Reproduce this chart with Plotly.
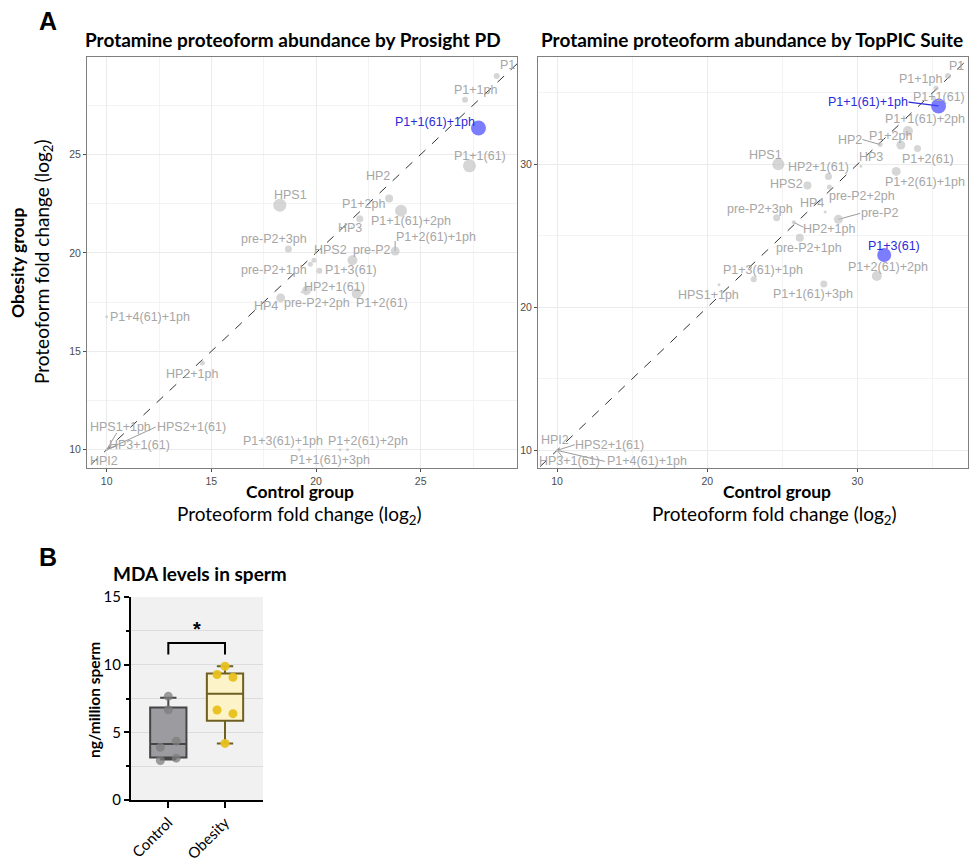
import plotly.graph_objects as go

W, H = 971, 861

# ---------------- Panel A, left: Prosight PD ----------------
names_pd = ["P1", "P1+1ph", "P1+1(61)+1ph", "P1+1(61)", "HP2", "P1+1(61)+2ph", "HPS1", "P1+2ph",
            "HP3", "pre-P2+3ph", "P1+2(61)+1ph", "HPS2", "pre-P2", "pre-P2+1ph", "P1+3(61)",
            "HP2+1(61)", "HP4", "pre-P2+2ph", "P1+2(61)", "P1+4(61)+1ph", "HP2+1ph", "HPS1+1ph",
            "HPS2+1(61)", "HP3+1(61)", "HPI2", "P1+3(61)+1ph", "P1+2(61)+2ph", "P1+1(61)+3ph"]
control_pd = [28.63, 27.12, 27.76, 27.33, 23.49, 24.06, 18.27, 22.09, 21.7, 18.68, 23.78, 19.9,
              21.74, 19.73, 20.16, 19.54, 18.31, 19.3, 21.94, 10.0, 14.57, 10.0, 10.0, 10.0, 10.0,
              19.2, 21.5, 21.15]
obesity_pd = [28.98, 27.78, 26.34, 24.42, 22.76, 22.14, 22.42, 21.73, 21.3, 20.19, 20.09, 19.63,
              19.62, 19.42, 19.09, 18.08, 17.71, 18.0, 17.93, 16.76, 14.4, 10.0, 10.0, 10.0, 10.0,
              10.0, 10.0, 10.0]
abund_pd = [6, 6, 15, 13, 8, 12, 13, 7, 2, 7, 9, 5, 10, 5, 6, 9, 9, 2, 10, 3, 5, 2, 2, 2, 2, 3, 3, 3]
highlight_pd = ["P1+1(61)+1ph"]

# label placement (repelled positions)
labx_pd = [29.15, 27.6, 25.69, 27.84, 22.98, 24.52, 18.76, 22.26, 21.62, 18.01, 25.72, 20.67,
           22.66, 17.99, 21.66, 20.86, 17.61, 20.03, 23.14, 12.07, 14.09, 10.64, 14.03, 11.59,
           9.89, 18.42, 22.47, 20.67]
laby_pd = [29.52, 28.29, 26.63, 24.9, 23.9, 21.63, 22.92, 22.48, 21.24, 20.7, 20.8, 20.13,
           20.13, 19.13, 19.13, 18.25, 17.3, 17.44, 17.44, 16.76, 13.85, 11.15, 11.15, 10.25,
           9.41, 10.42, 10.42, 9.46]
seg_pd = {"HPS1+1ph": (10.48, 10.85), "HPS2+1(61)": (12.34, 11.15), "HP3+1(61)": (10.5, 10.2),
          "P1+2(61)+1ph": (23.78, 20.6)}

# ---------------- Panel A, right: TopPIC Suite ----------------
names_tp = ["P1", "P1+1ph", "P1+1(61)+1ph", "P1+1(61)", "P1+1(61)+2ph", "P1+2ph", "HP2", "P1+2(61)",
            "HP3", "HPS1", "P1+2(61)+1ph", "HP2+1(61)", "HPS2", "pre-P2+2ph", "HP4", "pre-P2",
            "pre-P2+3ph", "HP2+1ph", "pre-P2+1ph", "P1+3(61)", "P1+2(61)+2ph", "P1+3(61)+1ph",
            "P1+1(61)+3ph", "HPS1+1ph", "HPI2", "HPS2+1(61)", "HP3+1(61)", "P1+4(61)+1ph"]
control_tp = [36.03, 35.23, 35.4, 35.1, 33.36, 32.89, 31.51, 34.0, 30.23, 24.73, 32.58, 28.07,
              26.67, 28.13, 27.85, 28.73, 24.62, 25.76, 26.16, 31.78, 31.29, 23.09, 27.76, 20.78,
              10.0, 10.0, 10.0, 10.0]
obesity_tp = [36.17, 35.33, 34.08, 34.6, 32.33, 31.35, 31.38, 31.1, 29.87, 30.0, 29.5, 29.15,
              28.52, 28.42, 26.66, 26.15, 26.26, 25.94, 24.86, 23.66, 22.19, 21.96, 21.63, 21.58,
              10.0, 10.0, 10.0, 10.0]
abund_tp = [6, 5, 15, 4, 10, 9, 5, 7, 3, 12, 9, 7, 8, 5, 3, 9, 7, 4, 8, 14, 10, 6, 7, 3, 2, 2, 2, 2]
highlight_tp = ["P1+1(61)+1ph", "P1+3(61)"]

labx_tp = [36.62, 34.18, 30.69, 35.4, 34.47, 32.18, 29.51, 34.67, 30.89, 23.89, 34.47, 27.4,
           25.29, 30.33, 26.96, 31.51, 23.51, 28.11, 26.78, 32.45, 32.0, 23.73, 27.07, 20.11,
           9.85, 13.51, 10.85, 15.96]
laby_tp = [36.87, 35.99, 34.35, 34.7, 33.15, 31.98, 31.68, 30.4, 30.52, 30.63, 28.77, 29.78,
           28.61, 27.77, 27.31, 26.57, 26.89, 25.45, 24.12, 24.28, 22.82, 22.61, 20.94, 20.89,
           10.7, 10.4, 9.23, 9.23]
seg_tp = {"P1+1(61)+1ph": (33.4, 34.35), "HP2": (30.33, 31.73), "pre-P2": (30.18, 26.57),
          "HP2+1ph": (26.4, 25.6), "HPS2+1(61)": (11.18, 10.4), "P1+4(61)+1ph": (13.18, 9.23),
          "HP3+1(61)": (10.4, 9.5)}

# ---------------- Panel B: MDA levels ----------------
groups = ["Control", "Obesity"]
control_mda = [2.92, 3.09, 3.9, 4.35, 6.67, 7.66]
obesity_mda = [4.18, 6.38, 6.65, 9.07, 9.27, 9.88]
box_q1 = [3.14, 5.86]
box_median = [4.13, 7.86]
box_q3 = [6.84, 9.34]
box_low = [3.0, 4.18]
box_high = [7.55, 9.88]

GREY_PT = "rgba(190,190,190,0.9)"
BLUE_PT = "#4444ff"
GREY_TXT = "#a6a6a6"
BLUE_TXT = "#2b2bd8"
LAB_FONT = "Liberation Sans"

fig = go.Figure()


def px2fx(p):
    return p / W


def py2fy(p):
    return 1 - p / H


annotations = []
shapes = []


def add_scatter_panel(names, xs, ys, sizes, highlights, labx, laby, segs, xa, ya, rng):
    # identity line
    fig.add_trace(go.Scatter(x=[rng[0], rng[1]], y=[rng[0], rng[1]], mode="lines",
                             line=dict(color="#333333", width=1, dash="dash"),
                             xaxis=xa, yaxis=ya, hoverinfo="skip", showlegend=False))
    sx, sy, bx, by = [], [], [], []
    for n, x, y in zip(names, xs, ys):
        if n in segs:
            ex, ey = segs[n]
            if n in highlights:
                bx += [x, ex, None]; by += [y, ey, None]
            else:
                sx += [x, ex, None]; sy += [y, ey, None]
    fig.add_trace(go.Scatter(x=sx, y=sy, mode="lines", line=dict(color="#9a9a9a", width=1),
                             xaxis=xa, yaxis=ya, hoverinfo="skip", showlegend=False))
    fig.add_trace(go.Scatter(x=bx, y=by, mode="lines", line=dict(color="#2b2bd8", width=1.3),
                             xaxis=xa, yaxis=ya, hoverinfo="skip", showlegend=False))
    cols = [BLUE_PT if n in highlights else GREY_PT for n in names]
    fig.add_trace(go.Scatter(x=xs, y=ys, mode="markers", text=names,
                             marker=dict(size=sizes, color=cols, line=dict(width=0)),
                             xaxis=xa, yaxis=ya, showlegend=False))
    for n, lx, ly in zip(names, labx, laby):
        annotations.append(dict(x=lx, y=ly, xref=xa, yref=ya, text=n, showarrow=False,
                                font=dict(family=LAB_FONT, size=12.5,
                                          color=BLUE_TXT if n in highlights else GREY_TXT)))


add_scatter_panel(names_pd, control_pd, obesity_pd, abund_pd, highlight_pd, labx_pd, laby_pd,
                  seg_pd, "x", "y", (8, 31))
add_scatter_panel(names_tp, control_tp, obesity_tp, abund_tp, highlight_tp, labx_tp, laby_tp,
                  seg_tp, "x2", "y2", (8, 39))

# ---------------- box panel ----------------
box_fill = ["#9c9ba0", "#fcf3c8"]
box_line = ["#454545", "#6e5f22"]
pt_col = ["rgba(125,125,125,0.75)", "rgba(232,192,30,0.95)"]
pt_dx = [[-0.14, 0.14, -0.14, 0.14, 0.0, 0.0], [0.0, 0.14, -0.14, 0.14, -0.14, 0.0]]
for i, g in enumerate(groups):
    fig.add_trace(go.Box(x=[i], q1=[box_q1[i]], median=[box_median[i]], q3=[box_q3[i]],
                         lowerfence=[box_low[i]], upperfence=[box_high[i]], width=0.64,
                         whiskerwidth=0.45, fillcolor=box_fill[i],
                         line=dict(color=box_line[i], width=2), boxpoints=False,
                         xaxis="x3", yaxis="y3", showlegend=False, name=g))
data_mda = [control_mda, obesity_mda]
for i, g in enumerate(groups):
    fig.add_trace(go.Scatter(x=[i + d for d in pt_dx[i]], y=data_mda[i], mode="markers",
                             marker=dict(size=9, color=pt_col[i]), xaxis="x3", yaxis="y3",
                             showlegend=False, name=g))

grid = "#ebebeb"
tickfont_small = dict(family=LAB_FONT, size=10.5, color="#4d4d4d")
common = dict(showgrid=True, gridcolor=grid, gridwidth=1, showline=True, linecolor="#7f7f7f",
              mirror=True, linewidth=1, ticks="outside", ticklen=3, tickcolor="#4d4d4d",
              tickfont=tickfont_small, zeroline=False, automargin=False)
fig.update_layout(
    width=W, height=H, margin=dict(l=0, r=0, t=0, b=0, autoexpand=False),
    paper_bgcolor="white", plot_bgcolor="white",
    xaxis=dict(domain=[px2fx(87), px2fx(517)], range=[9.06, 29.6], anchor="y",
               tickvals=[10, 15, 20, 25],
               minor=dict(tickvals=[12.5, 17.5, 22.5, 27.5], showgrid=True, gridcolor="#f3f3f3", ticklen=0),
               **common),
    yaxis=dict(domain=[py2fy(468), py2fy(57)], range=[9.07, 29.95], anchor="x",
               tickvals=[10, 15, 20, 25],
               minor=dict(tickvals=[12.5, 17.5, 22.5, 27.5], showgrid=True, gridcolor="#f3f3f3", ticklen=0),
               **common),
    xaxis2=dict(domain=[px2fx(538), px2fx(968)], range=[8.73, 37.36], anchor="y2",
                tickvals=[10, 20, 30],
                minor=dict(tickvals=[15, 25, 35], showgrid=True, gridcolor="#f3f3f3", ticklen=0),
                **common),
    yaxis2=dict(domain=[py2fy(468), py2fy(57)], range=[8.77, 37.5], anchor="x2",
                tickvals=[10, 20, 30],
                minor=dict(tickvals=[15, 25, 35], showgrid=True, gridcolor="#f3f3f3", ticklen=0),
                **common),
    xaxis3=dict(domain=[px2fx(131), px2fx(263)], range=[-0.658, 1.67], anchor="y3",
                tickvals=[0, 1], ticktext=groups, tickangle=-45, showgrid=False,
                showline=True, linecolor="black", linewidth=2, ticks="outside", ticklen=6,
                tickwidth=2, tickcolor="black", zeroline=False, automargin=False,
                tickfont=dict(family="Lato", size=15, color="black")),
    yaxis3=dict(domain=[py2fy(800), py2fy(597)], range=[0, 15], anchor="x3",
                tickvals=[0, 5, 10, 15], showgrid=True, gridcolor="#dcdcdc",
                minor=dict(tickvals=[2.5, 7.5, 12.5], showgrid=True, gridcolor="#dcdcdc",
                           ticks="outside", ticklen=3, tickwidth=1.5, tickcolor="black"),
                showline=True, linecolor="black", linewidth=2, ticks="outside", ticklen=5,
                tickwidth=2, tickcolor="black", zeroline=False, automargin=False,
                tickfont=dict(family="Lato", size=15, color="black")),
)

shapes.append(dict(type="rect", xref="x3 domain", yref="y3 domain", x0=0, x1=1, y0=0, y1=1,
                   fillcolor="#f1f1f1", line=dict(width=0), layer="below"))
shapes.append(dict(type="path", xref="x3", yref="y3", path="M 0,10.75 L 0,11.6 L 1,11.6 L 1,10.75",
                   line=dict(color="black", width=2)))
annotations.append(dict(x=0.5, y=12.6, xref="x3", yref="y3", text="<b>*</b>", showarrow=False,
                        font=dict(family="Liberation Sans", size=20, color="black")))

TITLE_FONT = dict(family="Lato", size=19, color="black")
ax_bold = dict(family="Lato", size=17.5, color="black")
ax_reg = dict(family="Lato", size=19, color="black")


def pa(x, y, text, font, angle=0):
    annotations.append(dict(x=px2fx(x), y=py2fy(y), xref="paper", yref="paper", text=text,
                            showarrow=False, font=font, textangle=angle,
                            xanchor="center", yanchor="middle"))


pa(48, 21, "<b>A</b>", dict(family="Liberation Sans", size=25, color="black"))
pa(48, 557, "<b>B</b>", dict(family="Liberation Sans", size=25, color="black"))
pa(293, 40, "<b>Protamine proteoform abundance by Prosight PD</b>", TITLE_FONT)
pa(752, 40, "<b>Protamine proteoform abundance by TopPIC Suite</b>", TITLE_FONT)
pa(300, 491, "<b>Control group</b>", ax_bold)
pa(299, 515, "Proteoform fold change (log<sub>2</sub>)", ax_reg)
pa(777, 491, "<b>Control group</b>", ax_bold)
pa(774, 515, "Proteoform fold change (log<sub>2</sub>)", ax_reg)
pa(18, 263, "<b>Obesity group</b>", ax_bold, -90)
pa(43, 262, "Proteoform fold change (log<sub>2</sub>)", ax_reg, -90)
pa(200, 573, "<b>MDA levels in sperm</b>", dict(family="Lato", size=19, color="black"))
pa(94, 700, "<b>ng/million sperm</b>", dict(family="Lato", size=15.5, color="black"), -90)

fig.update_layout(annotations=annotations, shapes=shapes)
fig.write_html("out.html", config={"displayModeBar": False},
               post_script="document.body.style.margin='0';document.body.style.overflow='hidden';")
